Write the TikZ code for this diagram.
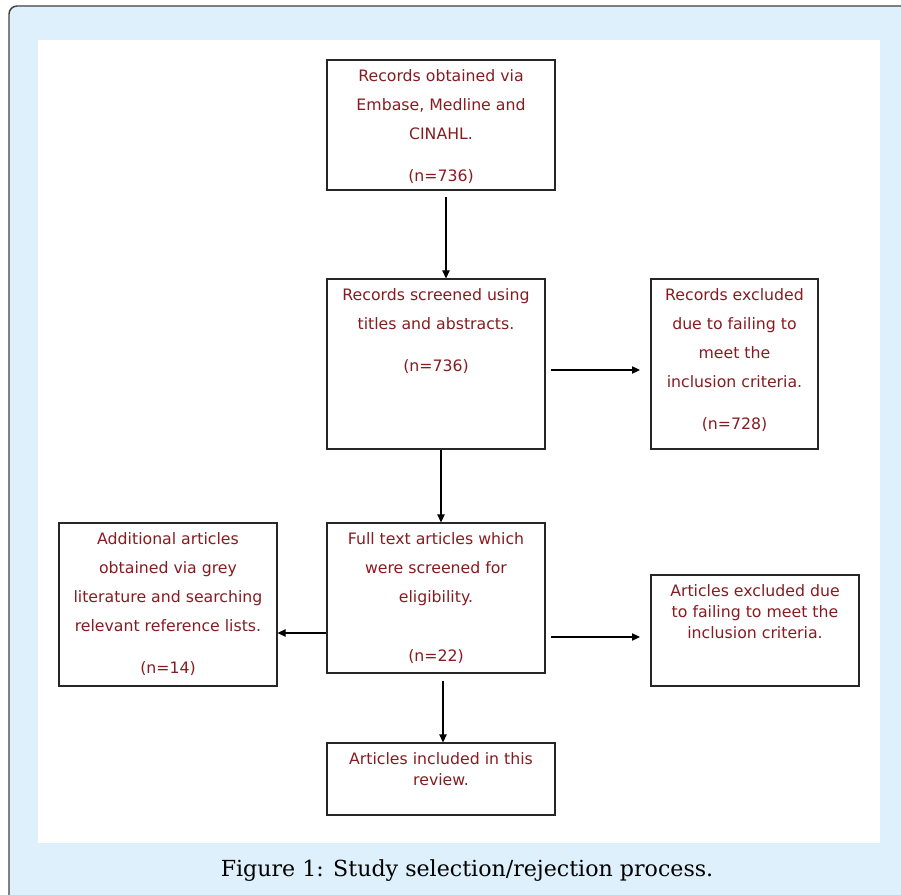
\documentclass[tikz,border=0pt]{standalone}
\usepackage{fontspec}
\setmainfont{DejaVu Sans}
\newfontfamily\capfont{DejaVu Serif}
\usetikzlibrary{positioning,arrows.meta}
\definecolor{flowred}{RGB}{135,28,32}
\definecolor{frameblue}{RGB}{222,240,251}

\begin{document}
\begin{tikzpicture}[x=0.75pt,y=-0.75pt,
    box/.style={rectangle, draw=black!85, line width=0.85pt, inner sep=0pt},
    wide/.style={inner sep=0pt, align=center, text=flowred, font=\fontsize{11.8}{21.75}\selectfont},
    tight/.style={inner sep=0pt, align=center, text=flowred, font=\fontsize{11.8}{15.5}\selectfont},
    flow/.style={-{Triangle[length=6pt,width=5.5pt]}, line width=0.85pt, black}]

        \useasboundingbox (0,0) rectangle (901,895);
        \clip (0,0) rectangle (901,895);

        %% Frame and caption
        \draw[fill=frameblue, draw=black!75, line width=1.1pt, rounded corners=6pt] (9,6) rectangle (930,930);
        \fill[white] (38,40) rectangle (880,843);
        \node[font=\capfont\fontsize{16.6}{20}\selectfont] (cap) at (467,871) {Figure 1: Study selection/rejection process.};

        %% Main column
        \node[box, minimum width=171pt, minimum height=97.5pt,
              label={[wide, anchor=north, yshift=-7.75pt]north:{Records obtained via\\Embase, Medline and\\CINAHL.\\[9.75pt](n=736)}}] (rec) at (441,125) {};
        \node[box, minimum width=163.5pt, minimum height=127.5pt,
              label={[wide, anchor=north, yshift=-7.75pt]north:{Records screened using\\titles and abstracts.\\[9.75pt](n=736)}}] (scr) at (436,364) {};
        \node[box, minimum width=163.5pt, minimum height=112.5pt,
              label={[wide, anchor=north, yshift=-7.75pt]north:{Full text articles which\\were screened for\\eligibility.\\[22.5pt](n=22)}}] (full) at (436,598) {};
        \node[box, minimum width=171pt, minimum height=54pt,
              label={[tight, anchor=north, yshift=-7.75pt]north:{Articles included in this\\review.}}] (incl) at (441,779) {};

        %% Side boxes
        \node[box, minimum width=125.25pt, minimum height=127.5pt,
              label={[wide, anchor=north, yshift=-7.75pt]north:{Records excluded\\due to failing to\\meet the\\inclusion criteria.\\[9.75pt](n=728)}}] (exc) at (734.5,364) {};
        \node[box, minimum width=163.5pt, minimum height=122.25pt,
              label={[wide, anchor=north, yshift=-7.75pt]north:{Additional articles\\obtained via grey\\literature and searching\\relevant reference lists.\\[9.75pt](n=14)}}] (add) at (168,604.5) {};
        \node[box, minimum width=156pt, minimum height=83.25pt,
              label={[tight, anchor=north, yshift=-7.75pt]north:{Articles excluded due\\to failing to meet the\\inclusion criteria.}}] (art) at (755,630.5) {};

        %% Arrows
        \coordinate (a1) at (446,197);
        \coordinate (a2) at (551,370);
        \coordinate (b2) at (640,370);
        \coordinate (a5) at (551,637);
        \coordinate (b5) at (640,637);
        \coordinate (a6) at (443,681);

        \draw[flow] (a1) -- (a1 |- scr.north);
        \draw[flow] (a2) -- (b2);
        \draw[flow] ([xshift=3.75pt]scr.south) -- ([xshift=3.75pt]full.north);
        \draw[flow] ([yshift=-26.25pt]full.west) -- ([yshift=-26.25pt]full.west -| add.east);
        \draw[flow] (a5) -- (b5);
        \draw[flow] (a6) -- (a6 |- incl.north);
\end{tikzpicture}
\end{document}
